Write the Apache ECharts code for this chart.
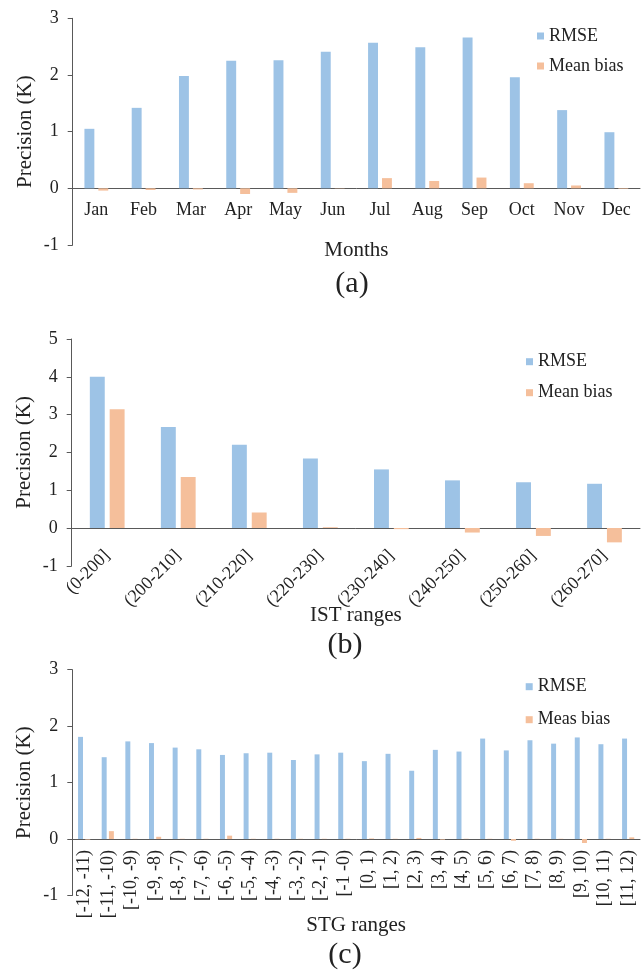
<!DOCTYPE html>
<html>
<head>
<meta charset="utf-8">
<script src="https://cdn.jsdelivr.net/npm/echarts@6/dist/echarts.min.js"></script>
<style>
html,body{margin:0;padding:0;background:#fff;}
#c{width:643px;height:971px;}
</style>
</head>
<body>
<div id="c"></div>
<script>
// Panel (a): months
const monthCats = ['Jan','Feb','Mar','Apr','May','Jun','Jul','Aug','Sep','Oct','Nov','Dec'];
const monthRmse = [1.05,1.42,1.98,2.25,2.26,2.41,2.57,2.49,2.66,1.96,1.38,0.99];
const monthBias = [-0.04,-0.03,-0.02,-0.10,-0.08,0.005,0.18,0.13,0.19,0.09,0.05,-0.01];

// Panel (b): IST ranges
const istCats = ['(0-200]','(200-210]','(210-220]','(220-230]','(230-240]','(240-250]','(250-260]','(260-270]'];
const istRmse = [4.00,2.67,2.20,1.84,1.55,1.26,1.21,1.17];
const istBias = [3.14,1.35,0.41,0.02,-0.03,-0.12,-0.21,-0.38];

// Panel (c): STG ranges
const stgCats = ['[-12, -11)','[-11, -10)','[-10, -9)','[-9, -8)','[-8, -7)','[-7, -6)','[-6, -5)','[-5, -4)','[-4, -3)','[-3, -2)','[-2, -1)','[-1 -0)','[0, 1)','[1, 2)','[2, 3)','[3, 4)','[4, 5)','[5, 6)','[6, 7)','[7, 8)','[8, 9)','[9, 10)','[10, 11)','[11, 12)'];
const stgRmse = [1.81,1.45,1.73,1.70,1.62,1.59,1.49,1.52,1.53,1.40,1.50,1.53,1.38,1.51,1.21,1.58,1.55,1.78,1.57,1.75,1.69,1.80,1.68,1.78];
const stgBias = [-0.01,0.14,0.005,0.04,0.005,0.005,0.06,0.005,0.005,0.005,0.005,0.005,0.01,0.005,0.02,-0.01,0.005,0.005,-0.03,0.005,0.005,-0.07,0.005,0.03];

const yTicksA = {min:-1, max:3, interval:1};
const yTicksB = {min:-1, max:5, interval:1};
const yTicksC = {min:-1, max:3, interval:1};

const FONT = 'Liberation Serif, Times New Roman, serif';
const TXT = '#222';
const AX = '#595959';
const BLUE = '#9DC3E6';
const ORANGE = '#F5BF9B';

const grids = [
  {left:72.7, top:18.3, width:567.3, height:226.7},
  {left:71.7, top:339, width:568.3, height:226.8},
  {left:72.3, top:669.7, width:567.7, height:225.8}
];
// distance from the grid bottom up to the value 0 (so the category axis sits on zero)
function zeroOffset(g, t) { return -g.height * (0 - t.min) / (t.max - t.min); }

function xAx(idx, cats, name, gap, rotate, margin, t) {
  return {
    type:'category', gridIndex:idx, data:cats, position:'bottom',
    offset: zeroOffset(grids[idx], t),
    axisLine:{onZero:false, lineStyle:{color:AX, width:1}},
    axisTick:{show:false},
    axisLabel:{interval:0, rotate:rotate, margin:margin, fontFamily:FONT, fontSize:18, color:TXT},
    name:name, nameLocation:'middle', nameGap:gap, nameMoveOverlap:false,
    nameTextStyle:{fontFamily:FONT, fontSize:21, color:TXT},
    splitLine:{show:false}
  };
}
function yAx(idx, t) {
  return {
    type:'value', gridIndex:idx, min:t.min, max:t.max, interval:t.interval,
    axisLine:{show:true, lineStyle:{color:AX, width:1}},
    axisTick:{show:true, inside:false, length:5, lineStyle:{color:AX}},
    axisLabel:{margin:14, fontFamily:FONT, fontSize:18, color:TXT},
    splitLine:{show:false},
    name:'Precision (K)', nameLocation:'middle', nameGap:37, nameMoveOverlap:false,
    nameTextStyle:{fontFamily:FONT, fontSize:21, color:TXT}
  };
}
function bars(idx, name, data, color, gap) {
  return {
    type:'bar', name:name, xAxisIndex:idx, yAxisIndex:idx, data:data,
    barWidth:'21%', barGap:gap,
    itemStyle:{color:color},
    emphasis:{disabled:true}, animation:false
  };
}
function leg(names, left, top, gap) {
  return {
    data:names, orient:'vertical', left:left, top:top, itemGap:gap, padding:0,
    icon:'rect', itemWidth:7, itemHeight:7, selectedMode:false,
    textStyle:{fontFamily:FONT, fontSize:18, color:TXT, lineHeight:18}
  };
}

const chart = echarts.init(document.getElementById('c'), null, {renderer:'canvas'});
chart.setOption({
  animation:false,
  backgroundColor:'#fff',
  grid:grids,
  xAxis:[
    xAx(0, monthCats, 'Months', 52, 0, 13, yTicksA),
    xAx(1, istCats, 'IST ranges', 77, 45, 25, yTicksB),
    xAx(2, stgCats, 'STG ranges', 76, 90, 11, yTicksC)
  ],
  yAxis:[yAx(0, yTicksA), yAx(1, yTicksB), yAx(2, yTicksC)],
  legend:[
    leg(['RMSE','Mean bias'], 537, 27, 12),
    leg(['RMSE','Mean bias'], 526, 352.7, 13),
    leg(['RMSE','Meas bias'], 525.7, 677.7, 15)
  ],
  series:[
    bars(0,'RMSE',monthRmse,BLUE,'40%'),
    bars(0,'Mean bias',monthBias,ORANGE,'40%'),
    bars(1,'RMSE',istRmse,BLUE,'33%'),
    bars(1,'Mean bias',istBias,ORANGE,'33%'),
    bars(2,'RMSE',stgRmse,BLUE,'45%'),
    bars(2,'Meas bias',stgBias,ORANGE,'45%')
  ],
  graphic:[
    {type:'text', x:352, y:284, style:{text:'(a)', font:'30px '+FONT, fill:TXT, textAlign:'center', textVerticalAlign:'middle'}},
    {type:'text', x:345, y:645, style:{text:'(b)', font:'30px '+FONT, fill:TXT, textAlign:'center', textVerticalAlign:'middle'}},
    {type:'text', x:345, y:955, style:{text:'(c)', font:'30px '+FONT, fill:TXT, textAlign:'center', textVerticalAlign:'middle'}}
  ]
});
</script>
</body>
</html>
